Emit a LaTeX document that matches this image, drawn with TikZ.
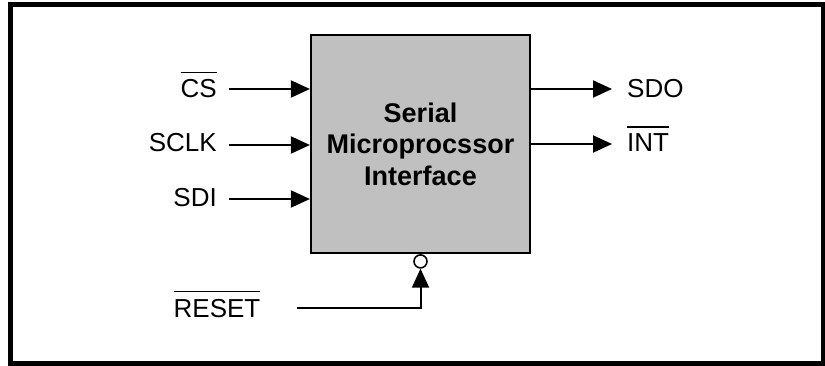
\documentclass[tikz,border=0pt]{standalone}
\usepackage{fontspec}
\setmainfont{Liberation Sans}
\usepackage{tikz}
\usetikzlibrary{arrows.meta,positioning}
\definecolor{blockgrey}{HTML}{C0C0C0}
\newcommand{\ovbar}[1]{\vbox{\hrule height 1.8pt\kern 6.5pt\hbox{#1}}}

\begin{document}
\begin{tikzpicture}[
  x=1pt, y=-1pt,
  font=\fontsize{26}{31}\selectfont,
  block/.style={draw=black, line width=2.2pt, fill=blockgrey, minimum width=219pt, minimum height=218pt, align=center, font=\fontsize{27}{31.5}\selectfont\bfseries},
  inlbl/.style={anchor=base east, inner sep=0pt},
  outlbl/.style={anchor=base west, inner sep=0pt},
  bubble/.style={draw=black, line width=1.6pt, fill=white, circle, minimum size=13pt, inner sep=0pt},
  sig/.style={-{Triangle[length=19pt,width=17pt]}, line width=2pt}
]
\useasboundingbox (0,0) rectangle (825,366);
\draw[line width=5.5pt] (10.5,4.5) rectangle (823.5,364);

\node[block] (smi) at (420.5,144) {Serial\\Microprocssor\\Interface};
\node[bubble, below=0pt of smi] (rstbub) {};

\coordinate (csin) at (229,89);
\coordinate (sclkin) at (229,145);
\coordinate (sdiin) at (229,199);
\coordinate (sdoout) at (612,89);
\coordinate (intout) at (612,144);
\coordinate (rstin) at (297,308);

\node[inlbl] (cs) at (217,98) {\ovbar{CS}};
\node[inlbl] (sclk) at (217,152) {SCLK};
\node[inlbl] (sdi) at (217,207) {SDI};
\node[outlbl] (sdo) at (627,98) {SDO};
\node[outlbl] (int) at (627,152) {\ovbar{INT}};
\node[anchor=base, inner sep=0pt] (rst) at (217,317) {\ovbar{RESET}};

\draw[sig] (csin) -- (smi.west |- csin);
\draw[sig] (sclkin) -- (smi.west |- sclkin);
\draw[sig] (sdiin) -- (smi.west |- sdiin);
\draw[sig] (smi.east |- sdoout) -- (sdoout);
\draw[sig] (smi.east |- intout) -- (intout);
\draw[sig] (rstin) -| (rstbub.south);
\end{tikzpicture}
\end{document}
